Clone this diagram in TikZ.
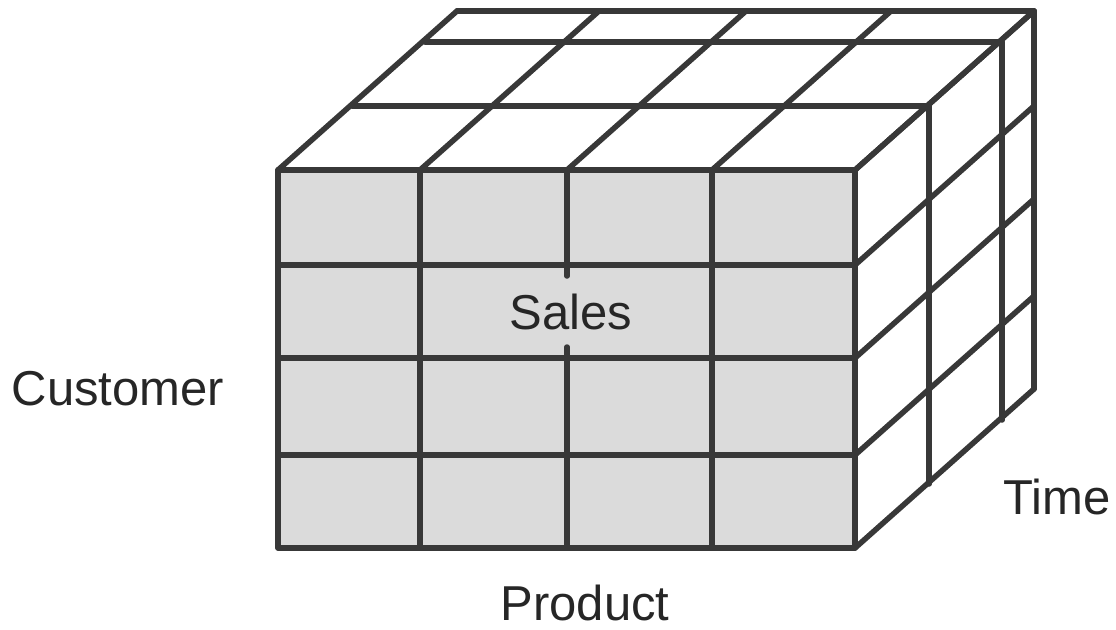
\documentclass[tikz,border=0pt]{standalone}
\usepackage{fontspec}
\setmainfont{Liberation Sans}
\begin{document}
\begin{tikzpicture}[x=1pt,y=-1pt,
  grid/.style={draw=black!78, line width=5.5pt, line cap=round, line join=round},
  lbl/.style={font=\fontsize{49}{58}\selectfont, text=black!85, inner sep=0pt}]
\useasboundingbox (0,0) rectangle (1116,629);
% front face fill
\fill[black!14] (278,170) rectangle (855,548);
% top face: lines parallel to front top edge
\foreach \dx/\dy in {74/-64, 147/-128, 179/-159}
  \draw[grid] (278+\dx,170+\dy) -- (855+\dx,170+\dy);
% top face: depth lines from front top vertices
\foreach \x in {278,420,567,712,855}
  \draw[grid] (\x,170) -- (\x+179,170-159);
% right face: verticals
\foreach \dx/\dy in {74/-64, 147/-128, 179/-159}
  \draw[grid] (855+\dx,170+\dy) -- (855+\dx,548+\dy);
% right face: depth lines
\foreach \y in {170,265,358,455,548}
  \draw[grid] (855,\y) -- (855+179,\y-159);
% front face grid
\draw[grid] (278,170) rectangle (855,548);
\foreach \y in {265,358,455}
  \draw[grid] (278,\y) -- (855,\y);
\foreach \x in {420,712}
  \draw[grid] (\x,170) -- (\x,548);
\draw[grid] (567,170) -- (567,276);
\draw[grid] (567,347) -- (567,548);
% labels
\node[lbl] (customer) at (118,389) {Customer};
\node[lbl] (sales) at (571,312) {Sales};
\node[lbl] (time) at (1057,497) {Time};
\node[lbl] (product) at (585,603) {Product};
\end{tikzpicture}
\end{document}
